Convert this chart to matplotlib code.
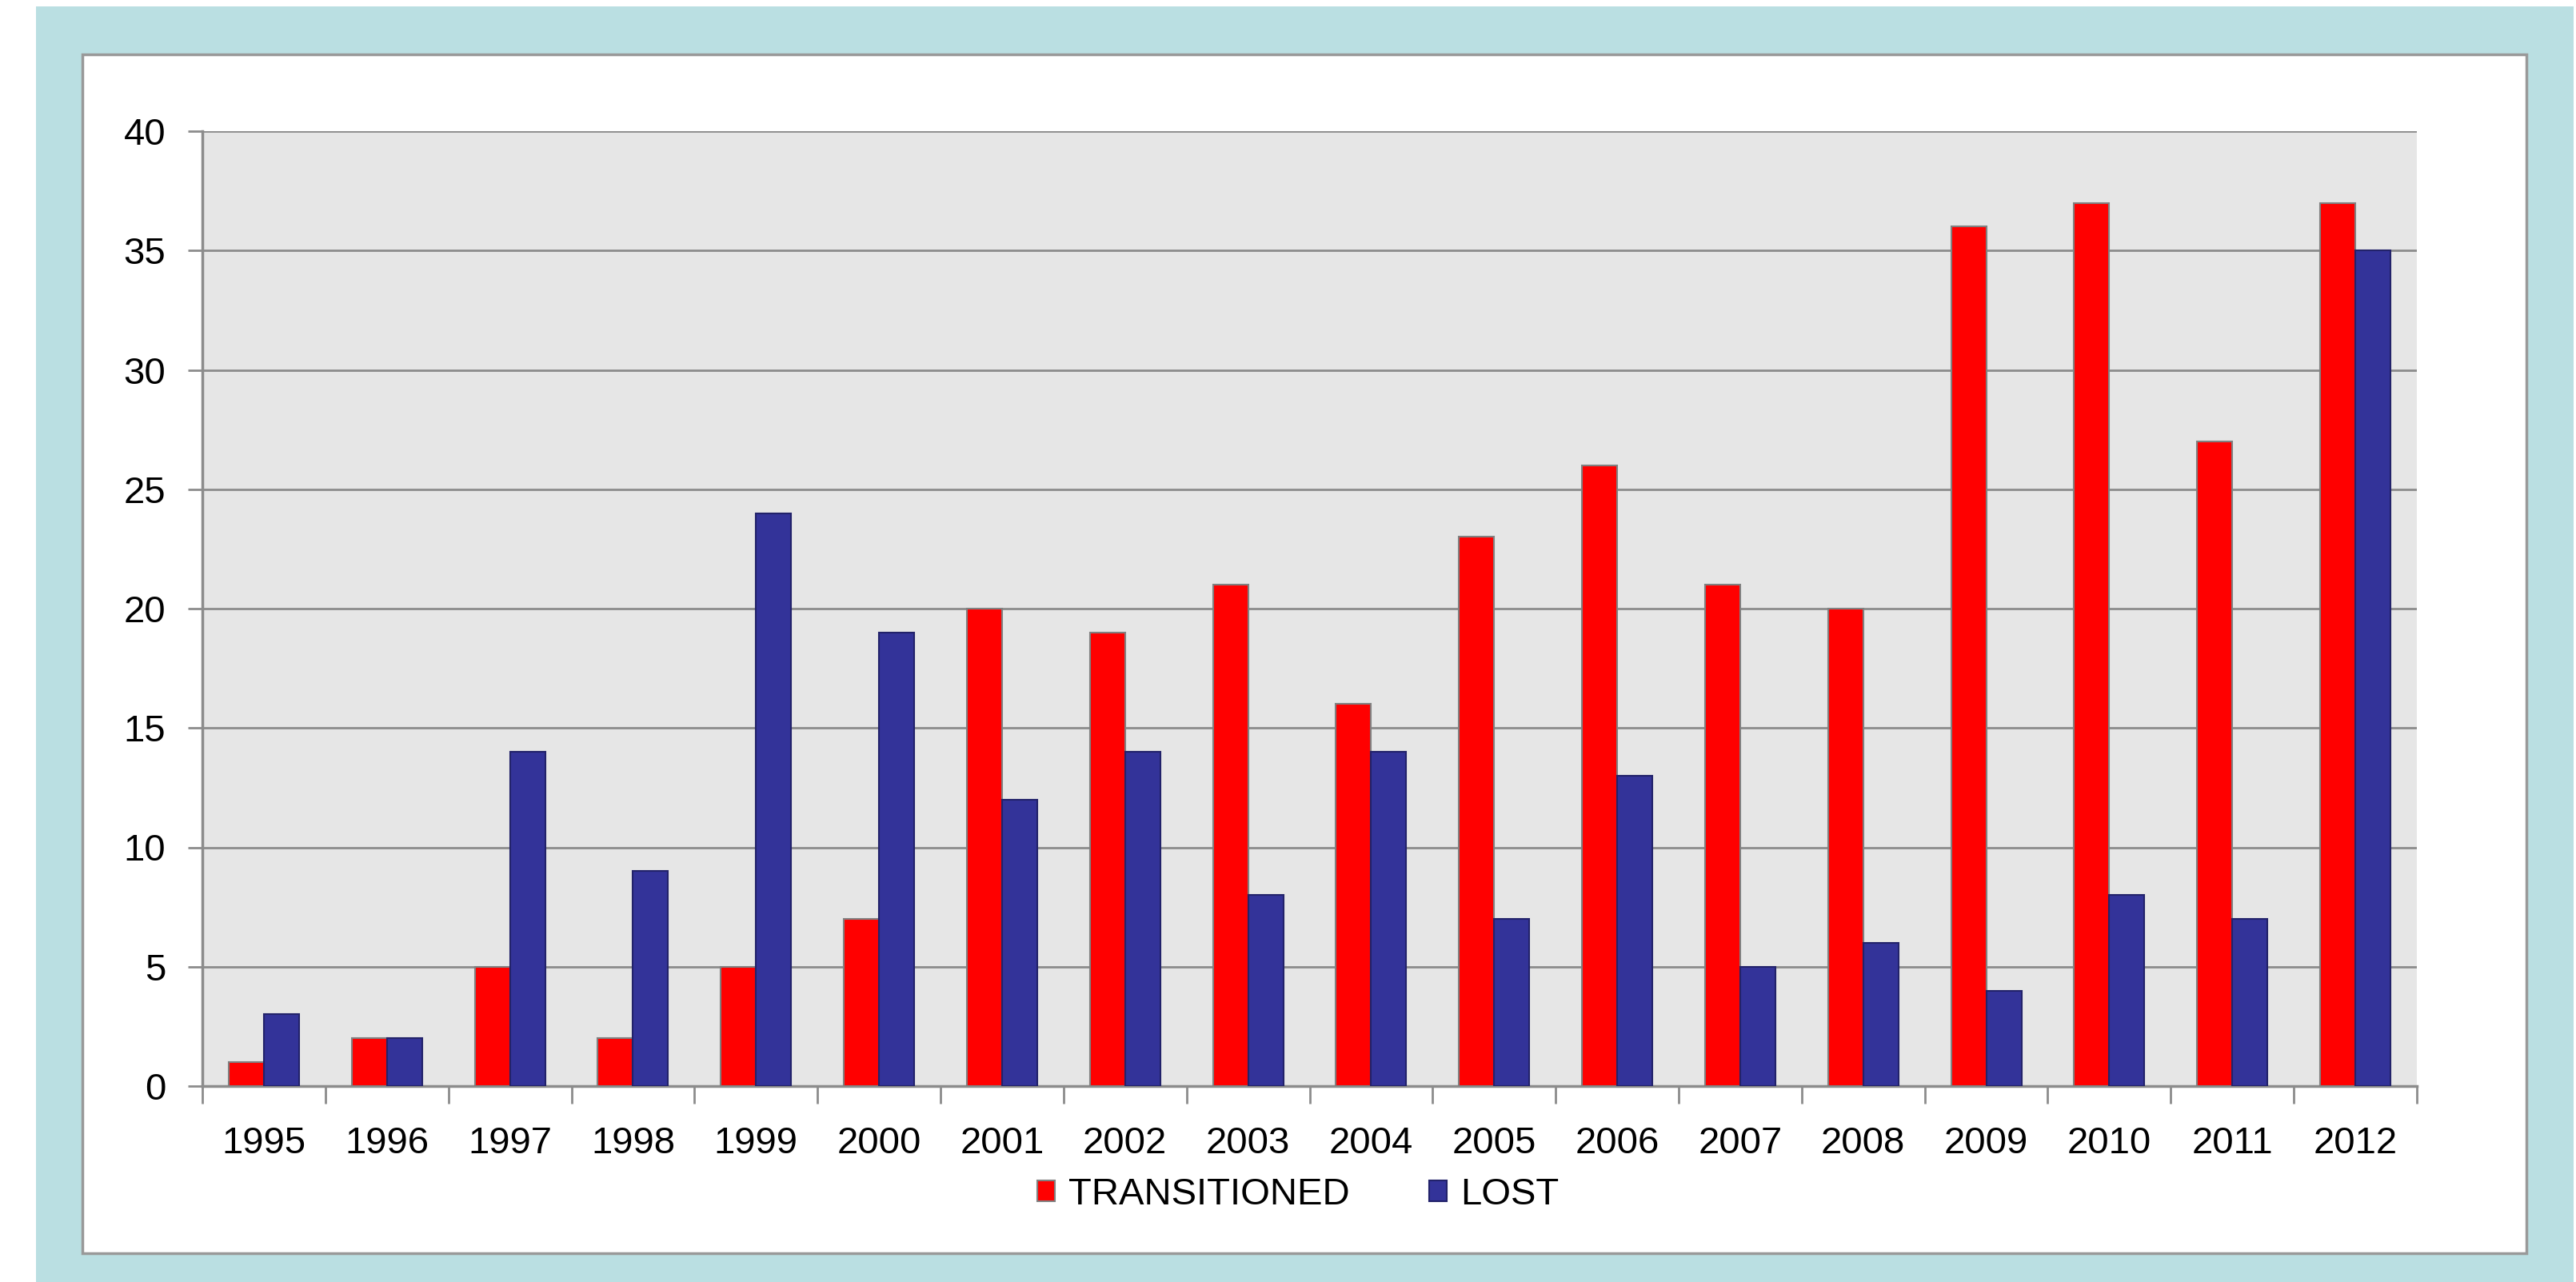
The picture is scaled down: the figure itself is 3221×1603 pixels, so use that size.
import matplotlib
matplotlib.use('Agg')
import matplotlib.pyplot as plt
from matplotlib.patches import Rectangle
import numpy as np

years = ['1995', '1996', '1997', '1998', '1999', '2000', '2001', '2002', '2003',
         '2004', '2005', '2006', '2007', '2008', '2009', '2010', '2011', '2012']
transitioned = [1, 2, 5, 2, 5, 7, 20, 19, 21, 16, 23, 26, 21, 20, 36, 37, 27, 37]
lost = [3, 2, 14, 9, 24, 19, 12, 14, 8, 14, 7, 13, 5, 6, 4, 8, 7, 35]

plt.rcParams['font.family'] = ['Liberation Sans', 'DejaVu Sans']

W, H = 3221, 1603
fig = plt.figure(figsize=(W / 100, H / 100), dpi=100)
fig.patch.set_facecolor('white')

# light blue frame and white panel behind the chart
fig.add_artist(Rectangle((45 / W, 0), (3218 - 45) / W, (H - 8) / H,
                         transform=fig.transFigure, facecolor='#badfe2',
                         edgecolor='none', zorder=-10))
fig.add_artist(Rectangle((103 / W, 1 - 1567 / H), (3159 - 103) / W, (1567 - 68) / H,
                         transform=fig.transFigure, facecolor='white',
                         edgecolor='#999999', linewidth=2.5, zorder=-9))

ax = fig.add_axes([253 / W, 1 - 1358 / H, (3022 - 253) / W, (1358 - 164) / H])
ax.set_facecolor('#e6e6e6')

x = np.arange(len(years))
w = 0.286
ax.bar(x - w, transitioned, width=w, align='edge', color='#ff0000',
       edgecolor='#808080', linewidth=1.5, label='TRANSITIONED', zorder=3)
ax.bar(x, lost, width=w, align='edge', color='#333399',
       edgecolor='#22226a', linewidth=1.5, label='LOST', zorder=3)

ax.set_xlim(-0.5, len(years) - 0.5)
ax.set_ylim(0, 40)
ax.set_yticks(range(0, 41, 5))
ax.yaxis.grid(True, color='#8c8c8c', linewidth=2, zorder=1)
ax.set_axisbelow(True)

# tick marks between groups, labels at group centres
ax.set_xticks(np.arange(-0.5, len(years), 1))
ax.set_xticklabels([])
ax.set_xticks(x, minor=True)
ax.set_xticklabels(years, minor=True)
ax.tick_params(axis='x', which='major', length=16, width=2, color='#8c8c8c')
ax.tick_params(axis='x', which='minor', length=0, pad=36, labelsize=34)
ax.tick_params(axis='y', length=13, width=2, color='#8c8c8c', pad=20, labelsize=34)

for s in ['top', 'right']:
    ax.spines[s].set_visible(False)
for s in ['left', 'bottom']:
    ax.spines[s].set_color('#8c8c8c')
    ax.spines[s].set_linewidth(2.5)

ax.legend(loc='center', bbox_to_anchor=(1623 / W, 1 - 1494 / H),
          bbox_transform=fig.transFigure, ncol=2, frameon=False, fontsize=34,
          handlelength=0.47, handleheight=0.47, handletextpad=0.36,
          columnspacing=2.1)

fig.savefig('out.png', dpi=100)
